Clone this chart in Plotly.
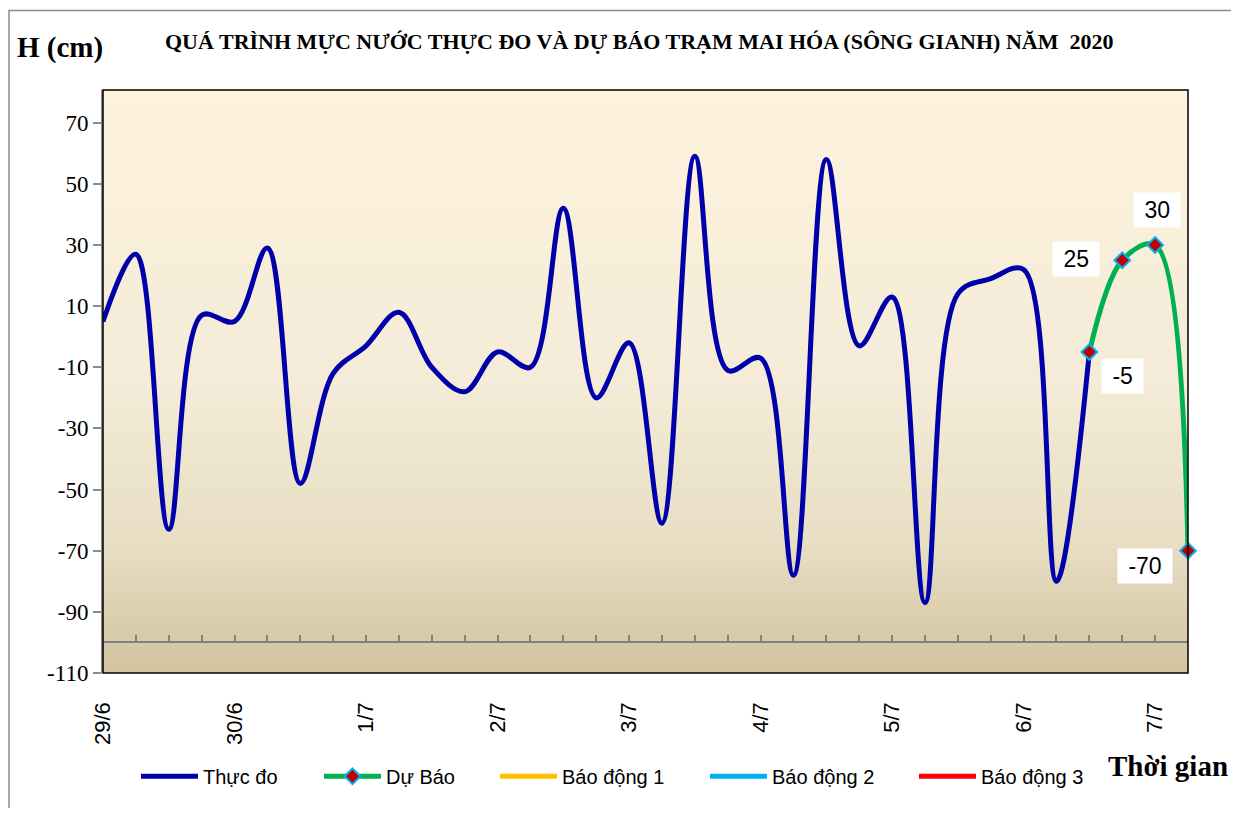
import plotly.graph_objects as go

# ---------------- data ----------------
day_labels = ['29/6', '30/6', '1/7', '2/7', '3/7', '4/7', '5/7', '6/7', '7/7']
steps_per_day = 4  # 4 observations per day (every 6 h)

observed = [5, 27, -63, 7, 5, 29, -48, -12, -3, 8, -10, -18, -5, -10, 42, -20,
            -2, -61, 59, -11, -7, -78, 58, -3, 13, -87, 14, 19, 22, -80, -5]
forecast = [-5, 25, 30, -70]
forecast_start = len(observed) - 1

y_ticks = [-110, -90, -70, -50, -30, -10, 10, 30, 50, 70]

n_points = len(observed) + len(forecast) - 1
x_obs = list(range(len(observed)))
x_fc = list(range(forecast_start, forecast_start + len(forecast)))
tick_pos = [i * steps_per_day for i in range(len(day_labels))]

legend_names = ['Thực đo', 'Dự Báo', 'Báo động 1', 'Báo động 2', 'Báo động 3']
alarm_colors = ['#FFC000', '#00B0F0', '#FF0000']

# ---------------- layout helpers (reference screen pixels) ----------------
OFF = 8  # page body margin
W, H = 1239 - 2 * OFF, 816 - 2 * OFF
L, R, T, B = 103, 1188, 90, 677      # plot area in screen pixels
Y_MIN, Y_MAX = -110, 80.7
AXIS_Y = -100


def px(x):
    return (x - L) / (R - L)


def py(y):
    return (B - y) / (B - T)


fig = go.Figure()

fig.add_trace(go.Scatter(
    x=x_obs, y=observed, mode='lines', name=legend_names[0],
    line=dict(color='#0000AA', width=5, shape='spline', smoothing=1.0),
    legend='legend'))

fig.add_trace(go.Scatter(
    x=x_fc, y=forecast, mode='lines+markers', name=legend_names[1],
    line=dict(color='#00B050', width=5, shape='spline', smoothing=1.0),
    marker=dict(symbol='diamond', size=12, color='#C00000',
                line=dict(color='#00B0F0', width=2)),
    cliponaxis=False, legend='legend2'))

for k, c in enumerate(alarm_colors):
    fig.add_trace(go.Scatter(
        x=x_obs, y=[None] * len(x_obs), mode='lines', name=legend_names[2 + k],
        line=dict(color=c, width=5), legend='legend%d' % (3 + k)))

# data labels on forecast points
label_shifts = [(33, -24), (-46, 1), (2, 35), (-43, -15)]
for xv, yv, (dx, dy) in zip(x_fc, forecast, label_shifts):
    fig.add_annotation(x=xv, y=yv, xref='x', yref='y', text=' %d ' % yv,
                       showarrow=False, xshift=dx, yshift=dy,
                       bgcolor='white', borderpad=4,
                       font=dict(family='Liberation Sans', size=23, color='black'))

# gradient background of plot area
stops = [(0.0, (253, 242, 222)), (0.5, (244, 236, 216)),
         (0.78, (232, 222, 196)), (1.0, (210, 196, 160))]


def grad(t):
    for (t0, c0), (t1, c1) in zip(stops[:-1], stops[1:]):
        if t <= t1:
            f = (t - t0) / (t1 - t0)
            return 'rgb(%d,%d,%d)' % tuple(round(a + (b - a) * f) for a, b in zip(c0, c1))
    return 'rgb(%d,%d,%d)' % stops[-1][1]


nb = 80
for i in range(nb):
    t = (i + 0.5) / nb
    fig.add_shape(type='rect', xref='paper', yref='paper', x0=0, x1=1,
                  y0=1 - (i + 1) / nb, y1=1 - i / nb + 0.002,
                  fillcolor=grad(t), line=dict(width=0), layer='below')

# plot area border
fig.add_shape(type='rect', xref='paper', yref='paper', x0=0, x1=1, y0=0, y1=1,
              line=dict(color='black', width=1.5), layer='above')
# outer chart border
fig.add_shape(type='rect', xref='paper', yref='paper', x0=px(OFF + 1), x1=px(1237),
              y0=py(814), y1=py(10), line=dict(color='#8C8C8C', width=1.5))

# texts
fig.add_annotation(xref='paper', yref='paper', x=px(60), y=py(47), xanchor='center', yanchor='middle',
                   text='<b>H (cm)</b>', showarrow=False,
                   font=dict(family='Liberation Serif', size=29, color='black'))
fig.add_annotation(xref='paper', yref='paper', x=px(639), y=py(41), xanchor='center', yanchor='middle',
                   text='<b>QUÁ TRÌNH MỰC NƯỚC THỰC ĐO VÀ DỰ BÁO TRẠM MAI HÓA (SÔNG GIANH) NĂM  2020</b>',
                   showarrow=False, font=dict(family='Liberation Serif', size=22, color='black'))
fig.add_annotation(xref='paper', yref='paper', x=px(1168), y=py(771), xanchor='center', yanchor='middle',
                   text='<b>Thời gian</b>', showarrow=False,
                   font=dict(family='Liberation Serif', size=29, color='black'))

axis_pos = (AXIS_Y - Y_MIN) / (Y_MAX - Y_MIN)

fig.update_layout(
    width=W, height=H, showlegend=True,
    margin=dict(l=L - OFF, r=W - (R - OFF), t=T - OFF, b=H - (B - OFF)),
    paper_bgcolor='white', plot_bgcolor='rgba(0,0,0,0)',
    xaxis=dict(range=[0, n_points - 1], anchor='free', position=axis_pos,
               showgrid=False, zeroline=False, showline=True, linecolor='#7F7F7F', linewidth=2,
               tickmode='array', tickvals=tick_pos, ticktext=day_labels,
               ticks='inside', ticklen=6, tickcolor='#7F7F7F', tickwidth=1.5,
               minor=dict(dtick=1, tick0=0, ticks='inside', ticklen=6, tickcolor='#7F7F7F', tickwidth=1.5),
               tickangle=-90, ticklabelstandoff=50,
               tickfont=dict(family='Liberation Sans', size=22, color='black')),
    yaxis=dict(range=[Y_MIN, Y_MAX], tickmode='array', tickvals=y_ticks,
               ticktext=[str(v) for v in y_ticks], showgrid=False, zeroline=False,
               showline=True, linecolor='#8C8C8C', linewidth=2,
               ticks='outside', ticklen=8, tickcolor='#8C8C8C', tickwidth=1.5,
               tickfont=dict(family='Liberation Serif', size=23, color='black')),
)

legend_line_x = [143, 326, 502, 712, 921]
leg_common = dict(orientation='h', yanchor='middle', y=py(781), xanchor='left',
                  bgcolor='rgba(0,0,0,0)', itemwidth=57,
                  font=dict(family='Liberation Sans', size=20, color='black'))
fig.update_layout(legend=dict(x=px(legend_line_x[0] - 7), **leg_common))
for k in range(1, 5):
    fig.update_layout({'legend%d' % (k + 1): dict(x=px(legend_line_x[k] - 7), **leg_common)})

fig.write_html('out.html')
